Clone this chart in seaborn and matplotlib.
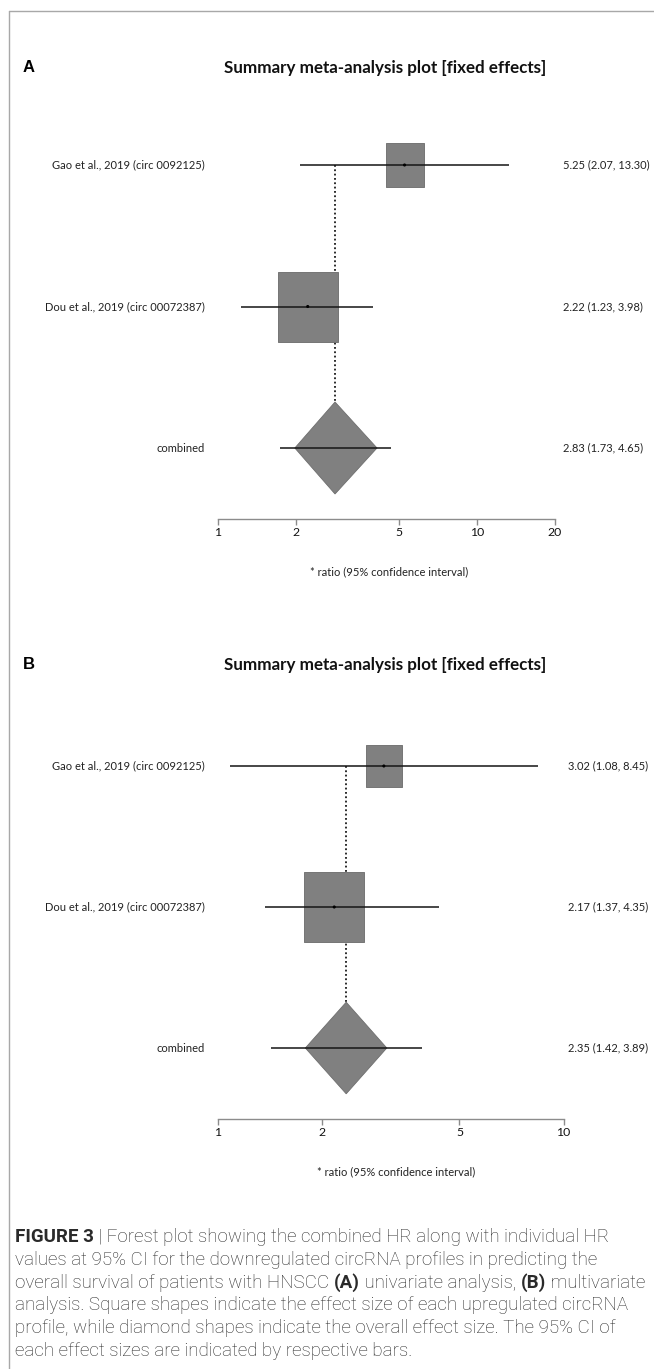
import numpy as np
import pandas as pd
import matplotlib
matplotlib.use("Agg")
import matplotlib.pyplot as plt
import seaborn as sns
from matplotlib.path import Path
from matplotlib import transforms
from matplotlib.lines import Line2D
from matplotlib.ticker import NullLocator, FixedLocator, FixedFormatter

# ---------------- data ----------------
studies = ["Gao et al., 2019 (circ 0092125)", "Dou et al., 2019 (circ 00072387)", "combined"]

hr_a = [5.25, 2.22, 2.83]
lo_a = [2.07, 1.23, 1.73]
hi_a = [13.30, 3.98, 4.65]
weight_a = [0.63, 1.0]
diamond_a = [1.98, 4.11]
ticks_a = [1, 2, 5, 10, 20]

hr_b = [3.02, 2.17, 2.35]
lo_b = [1.08, 1.37, 1.42]
hi_b = [8.45, 4.35, 3.89]
weight_b = [0.59, 1.0]
diamond_b = [1.79, 3.08]
ticks_b = [1, 2, 5, 10]

title = "Summary meta-analysis plot [fixed effects]"
xlabel = "* ratio (95% confidence interval)"

caption = [
    [("FIGURE 3", True), (" | Forest plot showing the combined HR along with individual HR", False)],
    [("values at 95% CI for the downregulated circRNA profiles in predicting the", False)],
    [("overall survival of patients with HNSCC ", False), ("(A)", True), (" univariate analysis, ", False),
     ("(B)", True), (" multivariate", False)],
    [("analysis. Square shapes indicate the effect size of each upregulated circRNA", False)],
    [("profile, while diamond shapes indicate the overall effect size. The 95% CI of", False)],
    [("each effect sizes are indicated by respective bars.", False)],
]

# ---------------- style ----------------
sns.set_theme(style="white")
plt.rcParams['font.family'] = ['Lato', 'DejaVu Sans']

W, H = 654, 1369
fig = plt.figure(figsize=(W / 100, H / 100), dpi=100)
fig.patch.set_facecolor("white")
renderer = fig.canvas.get_renderer()


def text_width(s, **kw):
    t = fig.text(0, 0, s, **kw)
    w = t.get_window_extent(renderer).width
    t.remove()
    return w


def seg_width(s, **kw):
    return text_width("|" + s + "|", **kw) - text_width("||", **kw)


def fit_size(s, target, **kw):
    return 10.0 * target / text_width(s, fontsize=10, **kw)


PLOT_FONT = ['Lato', 'DejaVu Sans']
title_fs = fit_size(title, 323, family=PLOT_FONT, fontweight='bold')
label_fs = fit_size(studies[0], 152, family=PLOT_FONT)

BOX_PT = 70 * 72 / 100.0   # box height (points) for weight 1
DH = 0.325                 # diamond half height in row units
GRAY = '#808080'
rect_marker = Path([(-0.431, -0.5), (0.431, -0.5), (0.431, 0.5), (-0.431, 0.5), (-0.431, -0.5)],
                   [Path.MOVETO, Path.LINETO, Path.LINETO, Path.LINETO, Path.CLOSEPOLY])


def panel(top_px, row_px, right_px, xlim, hr, lo, hi, weight, diamond, ticks, letter, title_y, xlab_x, xlab_y, val_x):
    y_top = top_px - 0.5 * row_px
    y_bot = top_px + 3.0 * row_px
    left = 218 / W
    ax = fig.add_axes([left, 1 - y_bot / H, (right_px - 218) / W, (y_bot - y_top) / H])
    ax.set_facecolor('none')
    ax.set_xscale('log')
    ax.set_xlim(*xlim)
    ax.set_ylim(4.0, 0.5)
    rows = [1, 2, 3]

    # confidence interval lines
    ax.hlines(rows, lo, hi, color='#151515', lw=1.1, zorder=3)

    # study boxes
    for i in range(2):
        sns.scatterplot(x=[hr[i]], y=[rows[i]], marker=rect_marker, s=(weight[i] * BOX_PT) ** 2,
                        color=GRAY, edgecolor='#6a6a6a', linewidth=0.6, ax=ax, zorder=2, legend=False)
    # combined diamond
    ax.fill([diamond[0], hr[2], diamond[1], hr[2]], [3, 3 - DH, 3, 3 + DH],
            facecolor=GRAY, edgecolor='#6e6e6e', lw=0.6, zorder=2)
    # dotted reference line at combined estimate
    ax.plot([hr[2], hr[2]], [1, 3 - DH], ls=(0, (1.0, 1.4)), color='#1a1a1a', lw=1.3, zorder=1)
    # centre points
    sns.scatterplot(x=hr[:2], y=rows[:2], s=5, color='black', edgecolor='none', ax=ax, zorder=4, legend=False)

    # axis
    for s in ['left', 'top', 'right']:
        ax.spines[s].set_visible(False)
    sp = ax.spines['bottom']
    sp.set_visible(True)
    sp.set_position(('data', 3.5))
    sp.set_bounds(xlim[0], xlim[1])
    sp.set_color('#8c8c8c')
    sp.set_linewidth(1.0)
    ax.xaxis.set_major_locator(FixedLocator(ticks))
    ax.xaxis.set_major_formatter(FixedFormatter([str(t) for t in ticks]))
    ax.xaxis.set_minor_locator(NullLocator())
    ax.tick_params(axis='x', which='major', direction='out', length=4, width=1.0, color='#8c8c8c',
                   labelsize=label_fs * 1.1, labelcolor='#111111', pad=2, bottom=True)
    ax.set_yticks([])
    ax.set_xlabel('')
    ax.set_ylabel('')
    ax.grid(False)

    trans = transforms.blended_transform_factory(fig.transFigure, ax.transData)
    for i, name in enumerate(studies):
        ax.text(205 / W, rows[i], name, transform=trans, ha='right', va='center',
                fontsize=label_fs, color='#222222', family=PLOT_FONT)
        ax.text(val_x / W, rows[i], f"{hr[i]:.2f} ({lo[i]:.2f}, {hi[i]:.2f})", transform=trans,
                ha='left', va='center', fontsize=label_fs, color='#222222', family=PLOT_FONT)

    fig.text(23 / W, 1 - title_y / H, letter, ha='left', va='center', fontsize=12,
             fontweight='bold', family=['Liberation Sans', 'DejaVu Sans'], color='black')
    fig.text(385 / W, 1 - title_y / H, title, ha='center', va='center', fontsize=title_fs,
             fontweight='bold', family=PLOT_FONT, color='#111111')
    fig.text(xlab_x / W, 1 - xlab_y / H, xlabel, ha='center', va='center', fontsize=label_fs,
             family=PLOT_FONT, color='#222222')
    return ax


panel(165, 141.5, 555, (1, 20), hr_a, lo_a, hi_a, weight_a, diamond_a, ticks_a, 'A', 68, 389, 572, 563)
panel(766, 141.0, 563.5, (1, 10), hr_b, lo_b, hi_b, weight_b, diamond_b, ticks_b, 'B', 665, 396, 1172, 568)

# frame lines
fig.add_artist(Line2D([9 / W, 9 / W], [0, 1 - 11 / H], transform=fig.transFigure, color='#a8a8a8', lw=1.0))
fig.add_artist(Line2D([9 / W, 1], [1 - 11 / H, 1 - 11 / H], transform=fig.transFigure, color='#a8a8a8', lw=1.0))

# caption
CAP_FONT = ['Roboto', 'DejaVu Sans']


def line_width(line, fs):
    return sum(seg_width(seg, family=CAP_FONT, fontsize=fs, fontweight='bold' if b else 'light')
               for seg, b in line)


cap_fs = 10.0 * 630.0 / max(line_width(l, 10.0) for l in caption)
for li, line in enumerate(caption):
    y = 1 - (1237 + 22.8 * li) / H
    x = 15.0
    for seg, bold in line:
        kw = dict(family=CAP_FONT, fontsize=cap_fs, fontweight='bold' if bold else 'light')
        fig.text(x / W, y, seg, ha='left', va='center', color='#2a2a2a', **kw)
        x += seg_width(seg, **kw)

fig.savefig('out.png', dpi=100)
